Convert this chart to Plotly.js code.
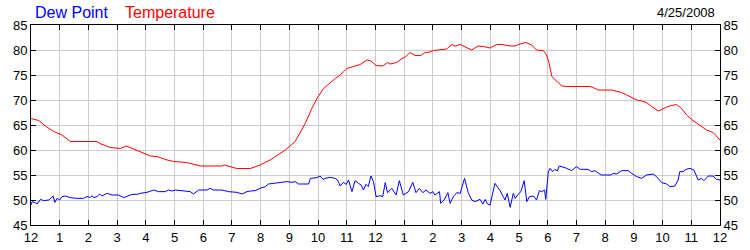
<!DOCTYPE html>
<html>
<head>
<meta charset="utf-8">
<script src="https://cdn.plot.ly/plotly-3.0.1.min.js"></script>
<style>html,body{margin:0;padding:0;background:#fff;}#chart{width:750px;height:250px;}</style>
</head>
<body>
<div id="chart"></div>
<script>
// hours since midnight (0..24)
const tempHours = [0,0.27,0.5,0.79,1.08,1.37,2.3,2.4,2.76,3.11,3.32,3.52,3.92,4.16,4.39,4.74,4.97,5.43,5.9,6.65,6.73,6.94,7.17,7.64,7.98,8.33,8.62,8.86,9.2,9.55,9.78,9.96,10.19,10.36,10.6,10.77,11.0,11.23,11.47,11.7,11.84,12.02,12.25,12.42,12.51,12.74,12.92,13.02,13.2,13.38,13.58,13.73,13.9,14.02,14.31,14.48,14.66,14.77,14.95,15.12,15.35,15.58,15.76,15.99,16.22,16.4,16.69,16.86,17.03,17.24,17.44,17.61,17.84,17.96,18.05,18.14,18.31,18.49,18.66,19.47,19.58,19.76,20.23,20.4,20.57,20.75,20.92,21.1,21.27,21.44,21.62,21.85,21.97,22.1,22.31,22.49,22.66,22.84,23.01,23.3,23.53,23.76,23.94,24];
const tempValues = [66.3,65.9,64.8,63.7,63.0,61.7,61.7,61.3,60.5,60.3,60.8,60.3,59.3,58.8,58.7,58.0,57.7,57.5,56.8,56.8,57.0,56.7,56.3,56.3,57.0,58.0,59.0,60.0,61.7,65.3,68.3,70.3,72.3,73.2,74.3,75.0,76.3,76.7,77.1,78.0,77.8,76.9,76.8,77.5,77.2,77.5,78.3,78.5,79.5,78.9,78.9,79.5,79.6,79.9,80.1,80.2,81.1,80.8,81.1,80.7,80.0,80.8,80.7,80.4,81.1,81.1,80.8,80.8,81.2,81.5,81.0,80.0,79.9,79.0,77.3,74.7,73.8,72.8,72.7,72.7,72.5,72.0,72.0,71.7,71.5,71.0,70.5,70.0,69.8,69.5,68.7,67.8,68.1,68.5,68.9,69.1,68.3,67.0,66.1,65.0,64.0,63.5,62.3,62.0];

const dewHours = [0,0.04,0.15,0.21,0.33,0.44,0.62,0.68,0.77,0.83,0.91,1.0,1.08,1.2,1.37,1.6,1.83,1.95,2.07,2.13,2.18,2.3,2.39,2.47,2.65,2.82,3.05,3.23,3.4,3.52,3.69,3.81,4.04,4.27,4.44,4.68,4.79,4.91,5.03,5.32,5.55,5.66,5.84,6.13,6.24,6.36,6.65,6.88,7.17,7.35,7.52,
  7.64,7.81,7.98,8.16,8.27,8.45,8.51,8.74,8.91,9.09,9.2,9.32,9.67,9.73,9.96,10.07,10.17,10.25,10.42,10.6,10.68,10.77,10.88,10.98,11.06,11.18,11.29,11.41,11.5,11.58,11.67,11.75,11.84,11.93,12.02,12.16,12.25,12.34,12.42,12.57,12.72,12.83,12.97,13.15,13.3,13.41,13.53,13.65,13.76,13.9,14.0,14.07,14.23,14.27,14.39,14.52,14.6,14.71,14.83,14.95,15.1,15.23,15.35,15.47,15.64,15.74,15.82,15.9,15.99,16.16,16.34,
  16.45,16.51,16.59,16.69,16.8,16.87,16.95,17.06,17.18,17.27,17.36,17.5,17.61,17.71,17.79,17.89,17.93,18.02,18.08,18.17,18.25,18.33,18.4,18.6,18.83,19.0,19.13,19.41,19.53,19.64,19.86,20.2,20.28,20.4,20.57,20.8,20.92,21.1,21.27,21.44,21.67,21.79,21.97,22.14,22.26,22.43,22.54,22.6,22.72,22.82,22.96,23.09,23.24,23.36,23.44,23.59,23.76,23.87,24];
const dewValues = [49.0,49.67,49.47,49.2,50.13,49.87,50.0,50.33,50.8,49.53,50.33,50.0,50.67,50.8,50.47,50.33,50.33,50.67,50.53,50.87,50.47,50.67,51.2,50.8,51.33,51.0,51.0,50.47,50.87,51.13,51.13,51.33,51.53,52.0,51.67,51.67,52.0,51.8,52.0,51.8,51.67,51.2,52.0,52.0,52.33,52.0,52.0,51.67,51.53,51.2,51.67,
  51.8,51.87,52.33,52.67,53.2,53.33,53.47,53.53,53.67,53.53,53.67,53.2,53.2,54.33,54.47,54.8,54.13,54.33,54.53,54.33,54.0,52.8,53.53,53.13,54.0,51.67,53.87,53.33,53.0,52.0,53.13,52.67,54.8,53.67,50.67,50.87,50.67,53.47,51.47,52.33,51.0,53.87,51.0,51.67,53.53,51.47,52.33,51.47,52.0,51.33,51.67,51.0,51.67,49.33,50.0,51.47,49.33,50.67,51.47,51.33,54.33,51.47,50.0,49.67,50.13,49.2,50.13,49.2,49.0,53.33,51.87,
  50.67,50.0,51.33,48.53,51.33,50.33,51.0,51.67,53.87,49.67,50.67,50.8,50.0,51.87,51.67,52.0,50.13,55.67,56.33,55.67,56.13,55.8,56.8,56.47,55.87,56.67,56.13,56.13,55.67,55.87,55.0,55.0,55.33,55.2,55.87,55.87,55.33,54.67,54.33,55.0,55.2,54.67,53.47,53.2,52.67,52.8,54.0,55.67,55.67,56.13,56.33,56.0,54.0,54.33,53.87,54.8,54.8,54.13,54.0];

const xTickVals = [0,1,2,3,4,5,6,7,8,9,10,11,12,13,14,15,16,17,18,19,20,21,22,23,24];
const xTickText = ['12','1','2','3','4','5','6','7','8','9','10','11','12','1','2','3','4','5','6','7','8','9','10','11','12'];
const yTickVals = [45,50,55,60,65,70,75,80,85];

const font = {family: 'Liberation Sans, Arial, sans-serif', size: 13, color: '#000'};

const traces = [
  {x: dewHours, y: dewValues, type: 'scatter', mode: 'lines', line: {color: '#0000ff', width: 1}, hoverinfo: 'skip', yaxis: 'y2'},
  {x: tempHours, y: tempValues, type: 'scatter', mode: 'lines', line: {color: '#ff0000', width: 1}, hoverinfo: 'skip'}
];

const layout = {
  width: 750, height: 250,
  margin: {l: 31, r: 30, t: 25, b: 25, pad: 0},
  paper_bgcolor: '#fff', plot_bgcolor: '#fff',
  showlegend: false,
  font: font,
  xaxis: {
    range: [0, 24], tickvals: xTickVals, ticktext: xTickText,
    showgrid: true, gridcolor: '#cccccc', gridwidth: 1,
    showline: true, linecolor: '#000', linewidth: 1, mirror: 'ticks',
    ticks: 'inside', ticklen: 5, tickcolor: '#000', tickwidth: 1,
    zeroline: false, tickfont: font, fixedrange: true
  },
  yaxis: {
    range: [45, 85], tickvals: yTickVals,
    showgrid: true, gridcolor: '#cccccc', gridwidth: 1,
    showline: true, linecolor: '#000', linewidth: 1, mirror: true,
    ticks: 'inside', ticklen: 5, tickcolor: '#000', tickwidth: 1,
    zeroline: false, tickfont: font, fixedrange: true
  },
  yaxis2: {
    range: [45, 85], tickvals: yTickVals, overlaying: 'y', side: 'right',
    showgrid: false, showline: true, linecolor: '#000', linewidth: 1,
    ticks: 'inside', ticklen: 5, tickcolor: '#000', tickwidth: 1,
    zeroline: false, tickfont: font, fixedrange: true
  },
  annotations: [
    {text: 'Dew Point', xref: 'paper', yref: 'paper', x: 0.003, y: 1.0625, xanchor: 'left', yanchor: 'middle', showarrow: false, font: {family: font.family, size: 16, color: '#0000ff'}},
    {text: 'Temperature', xref: 'paper', yref: 'paper', x: 0.1335, y: 1.0625, xanchor: 'left', yanchor: 'middle', showarrow: false, font: {family: font.family, size: 16, color: '#ff0000'}},
    {text: '4/25/2008', xref: 'paper', yref: 'paper', x: 0.9956, y: 1.0625, xanchor: 'right', yanchor: 'middle', showarrow: false, font: {family: font.family, size: 13, color: '#000'}}
  ]
};

Plotly.newPlot('chart', traces, layout, {displayModeBar: false, staticPlot: true});
</script>
</body>
</html>
